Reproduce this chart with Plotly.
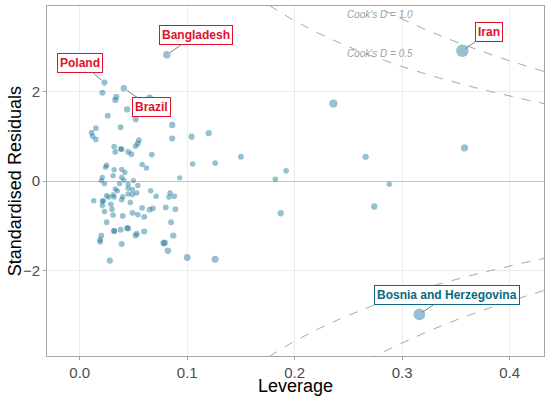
import numpy as np
import plotly.graph_objects as go

# leverage (hat values) and standardised residuals
leverage = [
    0.023, 0.021, 0.041, 0.034, 0.033, 0.065, 0.044, 0.026, 0.052, 0.086,
    0.015, 0.038, 0.011, 0.012, 0.015, 0.086, 0.104, 0.120, 0.055, 0.054,
    0.052, 0.032, 0.038, 0.039, 0.033, 0.045, 0.048, 0.067, 0.150, 0.105,
    0.126, 0.058, 0.062, 0.025, 0.024, 0.032, 0.039, 0.042, 0.031, 0.039,
    0.093, 0.182, 0.192, 0.288, 0.021, 0.020, 0.023, 0.037, 0.041, 0.045,
    0.050, 0.054,
    0.013, 0.021, 0.022, 0.021, 0.023, 0.025, 0.027, 0.032, 0.031, 0.033,
    0.035, 0.040, 0.039, 0.045, 0.049, 0.045, 0.049, 0.053, 0.066, 0.071,
    0.084, 0.083, 0.088, 0.029, 0.030, 0.047, 0.031, 0.040, 0.049, 0.054,
    0.060, 0.058, 0.065, 0.068, 0.080, 0.089, 0.025, 0.085, 0.032, 0.032,
    0.038, 0.044, 0.045, 0.053, 0.052, 0.060, 0.020, 0.019, 0.019, 0.039,
    0.087, 0.078, 0.079, 0.082, 0.028, 0.100, 0.126, 0.187, 0.274,
    0.081, 0.356, 0.316, 0.236, 0.266, 0.358,
]
std_resid = [
    2.20, 1.97, 2.07, 1.88, 1.81, 1.86, 1.60, 1.46, 1.38, 1.25,
    1.18, 1.20, 1.08, 1.00, 0.93, 0.95, 0.99, 1.07, 0.91, 0.84,
    0.78, 0.77, 0.72, 0.71, 0.65, 0.65, 0.60, 0.59, 0.54, 0.38,
    0.40, 0.37, 0.29, 0.35, 0.31, 0.25, 0.26, 0.19, 0.12, 0.08,
    0.07, 0.04, 0.23, -0.07, 0.08, 0.01, -0.06, -0.06, 0.02, -0.07,
    0.01, -0.10,
    -0.44, -0.45, -0.44, -0.55, -0.68, -0.33, -0.36, -0.36, -0.31, -0.18,
    -0.22, -0.35, -0.42, -0.16, -0.19, -0.29, -0.30, -0.27, -0.22, -0.34,
    -0.27, -0.36, -0.34, -0.52, -0.63, -0.48, -0.76, -0.78, -0.71, -0.75,
    -0.80, -0.60, -0.64, -0.61, -0.59, -0.63, -0.92, -0.92, -1.12, -1.11,
    -1.09, -1.05, -1.06, -1.18, -1.22, -1.13, -1.22, -1.31, -1.36, -1.41,
    -1.22, -1.39, -1.38, -1.56, -1.78, -1.71, -1.75, -0.72, -0.57,
    2.82, 2.91, -2.98, 1.73, 0.54, 0.74,
]

# labelled countries: (name, leverage, residual, label offset px)
labels = [
    ('Bangladesh', 0.081, 2.82, 29, -20),
    ('Poland', 0.023, 2.20, -24, -20),
    ('Brazil', 0.041, 2.07, 28, 19),
    ('Iran', 0.356, 2.91, 27, -19),
    ('Bosnia and Herzegovina', 0.316, -2.98, 28, -19),
]
label_colors = {'Bosnia and Herzegovina': '#0b6a80'}

n_params = 8
cook_levels = [0.5, 1.0]

h = np.array(leverage)
r = np.array(std_resid)
cooks = r ** 2 * h / (n_params * (1 - h) ** 2)
sizes = 5.3 + 7.5 * np.sqrt(cooks)

fig = go.Figure()

# Cook's distance contours
h_grid = np.linspace(0.005, 0.45, 300)
for d in cook_levels:
    bound = np.sqrt(d * n_params) * (1 - h_grid) / np.sqrt(h_grid)
    for sign in (1, -1):
        fig.add_trace(go.Scatter(
            x=h_grid, y=sign * bound, mode='lines',
            line=dict(color='#a8a8a8', width=1, dash='dash'),
            hoverinfo='skip', showlegend=False,
        ))

fig.add_trace(go.Scatter(
    x=leverage, y=std_resid, mode='markers',
    marker=dict(size=sizes, color='rgba(7,107,142,0.6)', line=dict(width=0)),
    showlegend=False,
))

for name, lx, ly, ax, ay in labels:
    col = label_colors.get(name, '#e0112b')
    fig.add_annotation(
        x=lx, y=ly, ax=ax, ay=ay, text=f'<b>{name}</b>',
        showarrow=True, arrowhead=0, arrowwidth=1, arrowcolor='#7f7f7f',
        standoff=4, font=dict(family='Liberation Sans', size=12, color=col),
        bgcolor='white', bordercolor=col, borderwidth=1, borderpad=2,
    )

for d, ty in zip(cook_levels, [2.84, 3.73]):
    fig.add_annotation(
        x=0.2796, y=ty, text=f"<i>Cook's D = {d:.1f}</i>", showarrow=False,
        font=dict(family='Liberation Sans', size=10, color='#a0a0a0'),
    )

# axis titles placed as paper annotations
fig.add_annotation(
    x=0.5, y=-0.087, xref='paper', yref='paper', text='Leverage', showarrow=False,
    xanchor='center', yanchor='middle',
    font=dict(family='Liberation Sans', size=18, color='black'),
)
fig.add_annotation(
    x=-0.064, y=0.5, xref='paper', yref='paper', text='Standardised Residuals',
    showarrow=False, textangle=-90, xanchor='center', yanchor='middle',
    font=dict(family='Liberation Sans', size=18, color='black'),
)

fig.update_layout(
    width=550, height=404,
    margin=dict(l=47, r=6, t=6, b=48),
    paper_bgcolor='white', plot_bgcolor='white',
    font=dict(family='Liberation Sans', color='#4d4d4d'),
    xaxis=dict(
        range=[-0.0305, 0.432], tickvals=[0, 0.1, 0.2, 0.3, 0.4], tickformat='.1f',
        showgrid=True, gridcolor='#ececec', zeroline=False, automargin=False,
        showline=True, mirror=True, linecolor='#a6a6a6', linewidth=1,
        ticks='outside', ticklen=3, tickcolor='#a6a6a6', tickfont=dict(size=15),
    ),
    yaxis=dict(
        range=[-3.91, 3.91], tickvals=[-2, 0, 2], automargin=False,
        showgrid=True, gridcolor='#ececec',
        zeroline=True, zerolinecolor='#c4c4c4', zerolinewidth=1,
        showline=True, mirror=True, linecolor='#a6a6a6', linewidth=1,
        ticks='outside', ticklen=3, tickcolor='#a6a6a6', tickfont=dict(size=15),
    ),
)

fig.write_html('out.html', config={'displayModeBar': False},
               post_script="document.body.style.margin='0';")
